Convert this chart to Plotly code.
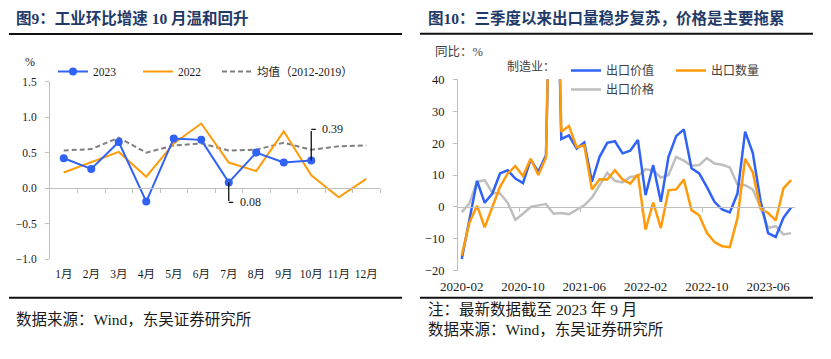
import plotly.graph_objects as go

W, H = 831, 359


def px(x):
    return x / W


def py(y):
    return 1 - y / H


# ---------------- Left chart data (图9) ----------------
months = ["1月", "2月", "3月", "4月", "5月", "6月", "7月", "8月", "9月", "10月", "11月", "12月"]
ind_2023 = [0.42, 0.27, 0.65, -0.19, 0.70, 0.68, 0.08, 0.50, 0.36, 0.39]
ind_2022 = [0.22, 0.37, 0.51, 0.16, 0.63, 0.91, 0.36, 0.24, 0.80, 0.18, -0.13, 0.13]
ind_avg = [0.53, 0.55, 0.71, 0.50, 0.60, 0.63, 0.53, 0.54, 0.64, 0.54, 0.59, 0.60]
left_yticks = [-1.0, -0.5, 0.0, 0.5, 1.0, 1.5]

# ---------------- Right chart data (图10) ----------------
dates = []
yy, mm = 2020, 2
for _ in range(44):
    dates.append(f"{yy}-{mm:02d}")
    mm += 1
    if mm > 12:
        mm = 1
        yy += 1

exp_value = [-16.3, -4.5, 8.2, 1.3, 4.2, 10.5, 11.5, 8.9, 7.5, 14.9, 11.0, 16.2,
             125.0, 21.3, 22.4, 18.3, 20.2, 7.9, 15.7, 20.1, 20.6, 16.8, 17.6, 21.0,
             3.7, 13.1, 1.6, 15.7, 22.2, 24.3, 12.1, 10.5, 6.3, 1.6, -0.8, -1.7,
             4.2, 23.6, 17.0, 2.1, -8.2, -9.4, -3.4, -0.2]
exp_volume = [-15.2, -4.9, 0.4, -6.4, 0.0, 6.3, 10.5, 12.8, 9.7, 15.1, 10.0, 15.5,
              130.0, 23.6, 25.4, 18.7, 19.3, 5.5, 8.7, 8.6, 11.5, 8.6, 7.3, 10.2,
              -7.1, 1.4, -6.6, 5.2, 5.5, 8.6, -1.0, -2.6, -8.1, -11.0, -12.3, -12.6,
              -3.5, 15.1, 10.9, -0.5, -1.9, -4.2, 5.8, 8.4]
exp_price = [-1.6, 1.1, 7.9, 8.4, 4.4, 4.2, 1.3, -4.0, -2.1, 0.0, 0.5, 0.9,
             -2.1, -1.9, -2.3, -0.8, 0.5, 2.9, 6.8, 10.7, 8.2, 7.7, 9.4, 9.7,
             11.8, 11.5, 9.2, 10.0, 15.7, 14.5, 12.9, 13.1, 15.3, 13.6, 13.2, 12.4,
             7.1, 6.8, 5.5, 0.0, -6.6, -6.0, -8.6, -8.2]
right_label_every = 8

SERIF = "'Times New Roman', 'Liberation Serif', 'Noto Sans CJK SC', serif"
TITLE_COLOR = "#1F3A68"
TEXT_COLOR = "#1a1a1a"
LEG_COLOR = "#404040"
AX_GRAY = "#BFBFBF"

BLUE = "#2F62F5"
ORANGE = "#FF9A0A"
DGRAY = "#7F7F7F"
LGRAY = "#BEBEBE"

fig = go.Figure()

# ---- left traces ----
fig.add_trace(go.Scatter(x=months, y=ind_avg, name="均值（2012-2019）", mode="lines",
                         line=dict(color=DGRAY, width=2, dash="5px,3px"),
                         xaxis="x", yaxis="y", legend="legend4"))
fig.add_trace(go.Scatter(x=months, y=ind_2022, name="2022", mode="lines",
                         line=dict(color=ORANGE, width=2),
                         xaxis="x", yaxis="y", legend="legend", legendrank=2))
fig.add_trace(go.Scatter(x=months[:len(ind_2023)], y=ind_2023, name="2023", mode="lines+markers",
                         line=dict(color=BLUE, width=2), marker=dict(size=8, color=BLUE),
                         xaxis="x", yaxis="y", legend="legend", legendrank=1))
# dummy for zero-line axis (left)
fig.add_trace(go.Scatter(x=[0], y=[0], mode="markers", marker=dict(opacity=0),
                         showlegend=False, hoverinfo="skip", xaxis="x3", yaxis="y"))

# ---- right traces ----
fig.add_trace(go.Scatter(x=dates, y=exp_price, name="出口价格", mode="lines",
                         line=dict(color=LGRAY, width=2.5),
                         xaxis="x2", yaxis="y2", legend="legend3"))
fig.add_trace(go.Scatter(x=dates, y=exp_value, name="出口价值", mode="lines",
                         line=dict(color=BLUE, width=2.5),
                         xaxis="x2", yaxis="y2", legend="legend2", legendrank=1))
fig.add_trace(go.Scatter(x=dates, y=exp_volume, name="出口数量", mode="lines",
                         line=dict(color=ORANGE, width=2.5),
                         xaxis="x2", yaxis="y2", legend="legend2", legendrank=2))
fig.add_trace(go.Scatter(x=[0], y=[0], mode="markers", marker=dict(opacity=0),
                         showlegend=False, hoverinfo="skip", xaxis="x4", yaxis="y2"))

# geometry
L_dom_y = [py(259), py(81.7)]
L_range = [-1, 1.5]
L_zero = L_dom_y[0] + (0 - L_range[0]) / (L_range[1] - L_range[0]) * (L_dom_y[1] - L_dom_y[0])
R_dom_y = [py(270.8), py(79.3)]
R_range = [-20, 40]
R_zero = R_dom_y[0] + (0 - R_range[0]) / (R_range[1] - R_range[0]) * (R_dom_y[1] - R_dom_y[0])
n_r = len(dates)

leg_common = dict(orientation="h", xanchor="left", yanchor="top",
                  entrywidthmode="pixels", traceorder="normal",
                  bgcolor="rgba(0,0,0,0)", borderwidth=0)

fig.update_layout(
    width=W, height=H, margin=dict(l=0, r=0, t=0, b=0, autoexpand=False),
    paper_bgcolor="white", plot_bgcolor="rgba(0,0,0,0)",
    font=dict(family=SERIF, size=12, color=TEXT_COLOR),
    xaxis=dict(domain=[px(50), px(380)], anchor="y", type="category",
               categoryorder="array", categoryarray=months, range=[-0.5, 11.5],
               showline=False, showgrid=False, zeroline=False, ticks="", tickangle=0,
               automargin=False,
               tickfont=dict(size=11.5, color=TEXT_COLOR), ticklabelstandoff=6),
    yaxis=dict(domain=L_dom_y, anchor="x", range=L_range, tickvals=left_yticks,
               tickformat=".1f", showline=True, linecolor=AX_GRAY, linewidth=1,
               ticks="outside", ticklen=4, tickcolor=AX_GRAY, showgrid=False,
               zeroline=False, automargin=False,
               tickfont=dict(size=11.5, color=TEXT_COLOR), ticklabelstandoff=6),
    xaxis3=dict(overlaying="x", anchor="free", position=L_zero, range=[-0.5, 11.5],
                tickvals=[i + 0.5 for i in range(12)], showticklabels=False,
                ticks="outside", ticklen=4, tickcolor=AX_GRAY, showline=True,
                linecolor=AX_GRAY, linewidth=1, showgrid=False, zeroline=False,
                automargin=False),
    xaxis2=dict(domain=[px(457.9), px(794.9)], anchor="y2", type="category",
                categoryorder="array", categoryarray=dates, range=[-0.5, n_r - 0.5],
                tickvals=dates[::right_label_every], showline=False, showgrid=False,
                zeroline=False, ticks="", tickangle=0, automargin=False,
                tickfont=dict(size=13, color=TEXT_COLOR), ticklabelstandoff=6),
    yaxis2=dict(domain=R_dom_y, anchor="x2", range=R_range, dtick=10, tick0=0,
                showline=True, linecolor=AX_GRAY, linewidth=1, ticks="outside", ticklen=4,
                tickcolor=AX_GRAY, showgrid=False, zeroline=False, automargin=False,
                tickfont=dict(size=12.5, color=TEXT_COLOR), ticklabelstandoff=6),
    xaxis4=dict(overlaying="x2", anchor="free", position=R_zero, range=[-0.5, n_r - 0.5],
                tickvals=[i - 0.5 for i in range(right_label_every, n_r, right_label_every)],
                showticklabels=False, ticks="outside", ticklen=4, tickcolor=AX_GRAY,
                showline=True, linecolor=AX_GRAY, linewidth=1, showgrid=False,
                zeroline=False, automargin=False),
    legend=dict(x=px(53), y=py(57), entrywidth=40,
                font=dict(size=11.5, color=TEXT_COLOR), **leg_common),
    legend4=dict(x=px(217), y=py(57), entrywidth=110,
                 font=dict(size=11.5, color=TEXT_COLOR), **leg_common),
    legend2=dict(x=px(566), y=py(56), entrywidth=60,
                 font=dict(size=12, color=LEG_COLOR), **leg_common),
    legend3=dict(x=px(566), y=py(75), entrywidth=60,
                 font=dict(size=12, color=LEG_COLOR), **leg_common),
)

annotations = []


def txt(x, y, text, size=12, color=TEXT_COLOR, anchor="left"):
    annotations.append(dict(x=px(x), y=py(y), xref="paper", yref="paper", text=text,
                            showarrow=False, xanchor=anchor, yanchor="middle",
                            font=dict(size=size, color=color, family=SERIF)))


# titles
txt(14, 18, "<b>图9：工业环比增速 10 月温和回升</b>", size=15.5, color=TITLE_COLOR)
txt(426, 18, "<b>图10：三季度以来出口量稳步复苏，价格是主要拖累</b>", size=15.5, color=TITLE_COLOR)
# unit labels
txt(23, 62, "%", size=12)
txt(433, 52, "同比：%", size=12.5, color=LEG_COLOR)
txt(505, 67, "制造业：", size=12, color=LEG_COLOR)
# sources / notes
txt(14, 319, "数据来源：Wind，东吴证券研究所", size=15.5)
txt(426, 309, "注：最新数据截至 2023 年 9 月", size=15.5)
txt(426, 329, "数据来源：Wind，东吴证券研究所", size=15.5)

# data label leaders (left chart)
for mon, val, dy in [("10月", 0.39, 31), ("7月", 0.08, -20)]:
    annotations.append(dict(x=mon, y=val, xref="x", yref="y", text="", showarrow=True,
                            arrowhead=0, ax=0, ay=-dy, arrowwidth=1.3, arrowcolor="#111",
                            standoff=0, startstandoff=0))
    annotations.append(dict(x=mon, y=val, xref="x", yref="y", text="", showarrow=True,
                            arrowhead=0, ax=6, ay=0, yshift=dy, arrowwidth=1.3,
                            arrowcolor="#111", standoff=0, startstandoff=0))
    annotations.append(dict(x=mon, y=val, xref="x", yref="y", text=f"{val:.2f}",
                            showarrow=False, xanchor="left", yanchor="middle",
                            xshift=9, yshift=dy, font=dict(size=12, color=TEXT_COLOR)))

fig.update_layout(annotations=annotations)

# decorative rules
shapes = []
for x0, x1, y, w in [(9, 402, 34, 2), (420, 813, 33.7, 2), (9, 402, 297.7, 2), (420, 813, 297.7, 2)]:
    shapes.append(dict(type="line", xref="paper", yref="paper", x0=px(x0), x1=px(x1),
                       y0=py(y), y1=py(y), line=dict(color="#111", width=w)))
fig.update_layout(shapes=shapes)

fig.write_html("out.html", config={"displayModeBar": False},
               post_script="document.body.style.margin='0';")
